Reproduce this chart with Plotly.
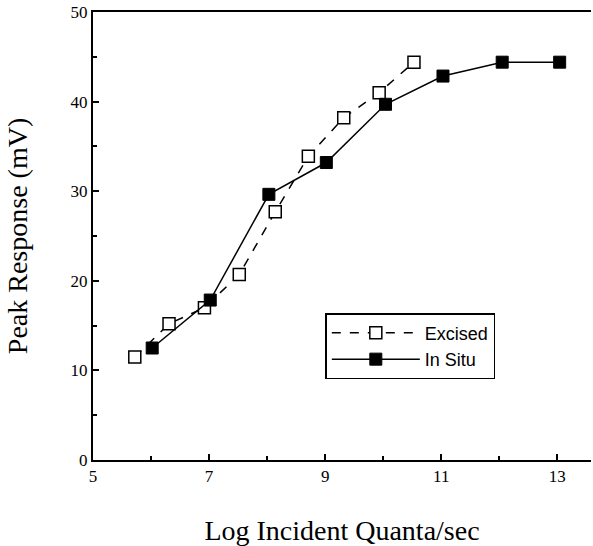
import plotly.graph_objects as go

# Data
excised_x = [5.72, 6.31, 6.92, 7.52, 8.14, 8.71, 9.32, 9.93, 10.53]
excised_y = [11.5, 15.2, 17.0, 20.7, 27.7, 33.9, 38.2, 41.0, 44.4]
insitu_x = [6.02, 7.02, 8.03, 9.02, 10.04, 11.03, 12.05, 13.04]
insitu_y = [12.5, 17.85, 29.65, 33.2, 39.7, 42.85, 44.4, 44.4]

x_ticks = [5, 7, 9, 11, 13]
y_ticks = [0, 10, 20, 30, 40, 50]

fig = go.Figure()
fig.add_trace(go.Scatter(
    x=excised_x, y=excised_y, name="Excised", mode="lines+markers",
    line=dict(color="black", width=1.5, dash="dash"),
    marker=dict(symbol="square", size=12, color="white",
                line=dict(color="black", width=1.5)),
))
fig.add_trace(go.Scatter(
    x=insitu_x, y=insitu_y, name="In Situ", mode="lines+markers",
    line=dict(color="black", width=1.5),
    marker=dict(symbol="square", size=12, color="black",
                line=dict(color="black", width=1)),
))

serif = "Liberation Serif, Times New Roman, serif"

fig.update_layout(
    width=593, height=546,
    margin=dict(l=93, r=2, t=12, b=86),
    paper_bgcolor="white", plot_bgcolor="white",
    font=dict(family=serif, color="black", size=15),
    legend=dict(
        x=0.4665, y=0.328, xanchor="left", yanchor="top",
        bordercolor="black", borderwidth=1.5,
        font=dict(family="Liberation Sans, Arial, sans-serif", size=18, color="black"),
        itemwidth=88, entrywidth=157, tracegroupgap=0,
    ),
    xaxis=dict(
        range=[5, 13.58], tickmode="array", tickvals=x_ticks,
        ticks="inside", ticklen=6, tickwidth=1.5, tickcolor="black",
        minor=dict(tickvals=[6, 8, 10, 12], ticks="inside", ticklen=4,
                   tickwidth=1.5, tickcolor="black"),
        showline=True, linecolor="black", linewidth=2, mirror=True,
        showgrid=False, zeroline=False, automargin=False,
        title=dict(text="Log Incident Quanta/sec", font=dict(size=28, family=serif), standoff=36),
        tickfont=dict(size=17, family=serif),
    ),
    yaxis=dict(
        range=[0, 50], tickmode="array", tickvals=y_ticks,
        ticks="inside", ticklen=6, tickwidth=1.5, tickcolor="black",
        minor=dict(tickvals=[5, 15, 25, 35, 45], ticks="inside", ticklen=4,
                   tickwidth=1.5, tickcolor="black"),
        showline=True, linecolor="black", linewidth=2,
        showgrid=False, zeroline=False, automargin=False,
        title=dict(text="Peak Response (mV)", font=dict(size=28, family=serif), standoff=35),
        tickfont=dict(size=17, family=serif),
    ),
)

fig.write_html("out.html", config={"displayModeBar": False},
               post_script="document.body.style.margin='0';")
